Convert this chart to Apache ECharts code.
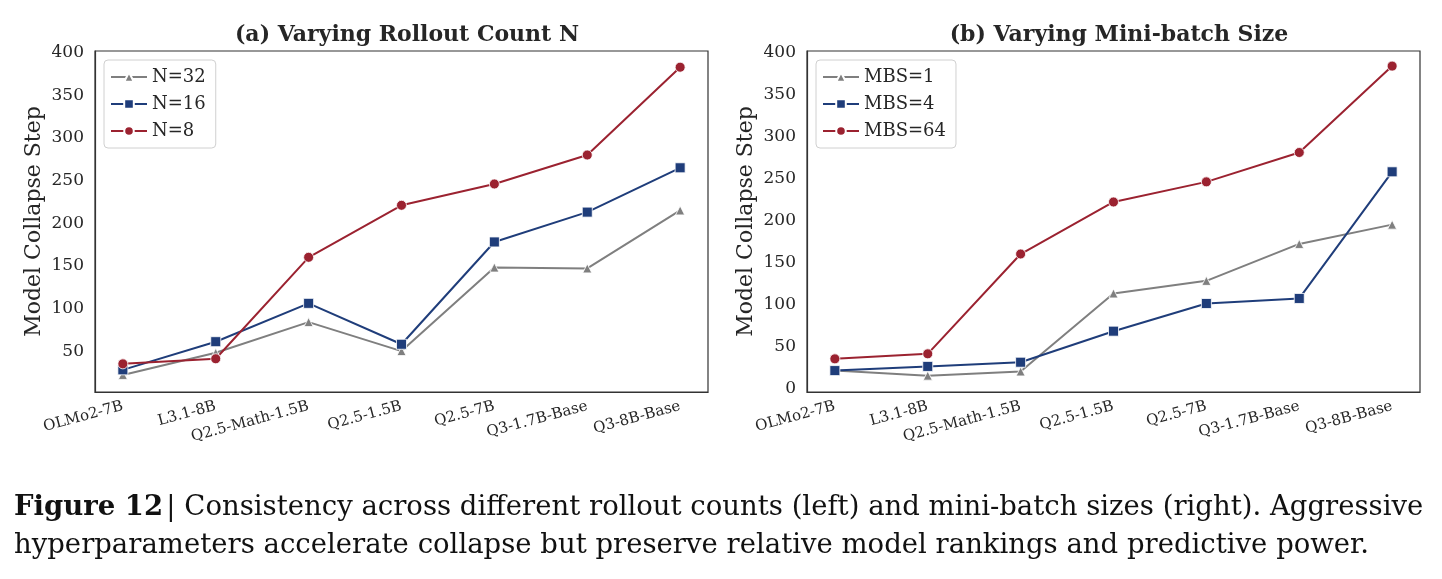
<!DOCTYPE html>
<html>
<head>
<meta charset="utf-8">
<script src="https://cdn.jsdelivr.net/npm/echarts@6/dist/echarts.min.js"></script>
<style>
  html, body { margin: 0; padding: 0; background: #fff; }
  #chart { width: 1442px; height: 579px; }
</style>
</head>
<body>
<div id="chart"></div>
<script>
const models = ["OLMo2-7B", "L3.1-8B", "Q2.5-Math-1.5B", "Q2.5-1.5B", "Q2.5-7B", "Q3-1.7B-Base", "Q3-8B-Base"];
const n32 = [22, 48, 84, 50, 148, 147, 215];
const n16 = [28, 61, 106, 58, 178, 213, 265];
const n8 = [35, 41, 160, 221, 246, 280, 383];
const mbs1 = [21, 15, 20, 113, 128, 172, 195];
const mbs4 = [21, 26, 31, 68, 101, 107, 258];
const mbs64 = [35, 41, 160, 222, 246, 281, 384];
const leftTicks = [50, 100, 150, 200, 250, 300, 350, 400];
const rightTicks = [0, 50, 100, 150, 200, 250, 300, 350, 400];

const GRAY = "#7f7f7f", BLUE = "#1f3d7a", RED = "#9b2230";
const FONT = "DejaVu Serif";
const TXT = "#262626";

const pts = arr => arr.map((v, i) => [i, v]);

function xAxis(idx) {
  return {
    type: "value", gridIndex: idx, min: -0.3, max: 6.3,
    axisLine: { show: true, onZero: false, lineStyle: { color: "#333", width: 1.2 } },
    axisTick: { show: false },
    splitLine: { show: false },
    axisLabel: {
      customValues: models.map((m, i) => i),
      formatter: v => models[Math.round(v)],
      rotate: 15, fontFamily: FONT, fontSize: 15, color: TXT, margin: 14
    }
  };
}
function yAxis(idx, min, max, ticks) {
  return {
    type: "value", gridIndex: idx, min: min, max: max,
    name: "Model Collapse Step", nameLocation: "middle", nameGap: 50,
    nameTextStyle: { fontFamily: FONT, fontSize: 22, color: TXT },
    axisLine: { show: true, onZero: false, lineStyle: { color: "#333", width: 1.2 } },
    axisTick: { show: false },
    splitLine: { show: false },
    axisLabel: { customValues: ticks, fontFamily: FONT, fontSize: 17, color: TXT, margin: 11 }
  };
}
function line(name, data, color, symbol, idx) {
  return {
    type: "line", name: name, data: pts(data), xAxisIndex: idx, yAxisIndex: idx,
    symbol: symbol, symbolSize: symbol === "triangle" ? 9 : 10,
    lineStyle: { color: color, width: 2 },
    itemStyle: { color: color, borderColor: "#fff", borderWidth: 0.8 },
    emphasis: { disabled: true }, animation: false
  };
}
function legend(left, names) {
  return {
    data: names, orient: "vertical", left: left, top: 60,
    backgroundColor: "#fff", borderColor: "#d0d0d0", borderWidth: 1, borderRadius: 4,
    padding: [8, 10, 8, 6], itemGap: 9, itemWidth: 36, itemHeight: 12,
    textStyle: { fontFamily: FONT, fontSize: 18, color: TXT }
  };
}

const chart = echarts.init(document.getElementById("chart"));
chart.setOption({
  backgroundColor: "#fff",
  animation: false,
  title: [
    { text: "(a) Varying Rollout Count N", left: 402, top: 19, textAlign: "center",
      textStyle: { fontFamily: FONT, fontWeight: "bold", fontSize: 22, color: TXT } },
    { text: "(b) Varying Mini-batch Size", left: 1114, top: 19, textAlign: "center",
      textStyle: { fontFamily: FONT, fontWeight: "bold", fontSize: 22, color: TXT } }
  ],
  grid: [
    { left: 95, right: 734, top: 51, bottom: 187, show: true, borderColor: "#333", borderWidth: 1.2 },
    { left: 807, right: 22, top: 51, bottom: 187, show: true, borderColor: "#333", borderWidth: 1.2 }
  ],
  legend: [legend(104, ["N=32", "N=16", "N=8"]), legend(816, ["MBS=1", "MBS=4", "MBS=64"])],
  xAxis: [xAxis(0), xAxis(1)],
  yAxis: [yAxis(0, 2, 402, leftTicks), yAxis(1, -4.5, 402, rightTicks)],
  series: [
    line("N=32", n32, GRAY, "triangle", 0),
    line("N=16", n16, BLUE, "rect", 0),
    line("N=8", n8, RED, "circle", 0),
    line("MBS=1", mbs1, GRAY, "triangle", 1),
    line("MBS=4", mbs4, BLUE, "rect", 1),
    line("MBS=64", mbs64, RED, "circle", 1)
  ],
  graphic: [
    { type: "text", left: 14, top: 494, style: {
        rich: { b: { fontFamily: FONT, fontWeight: "bold", fontSize: 27.5, fill: "#111" },
                n: { fontFamily: FONT, fontSize: 27.5, fill: "#111" } },
        text: "{b|Figure 12} {n|| Consistency across different rollout counts (left) and mini-batch sizes (right). Aggressive}" } },
    { type: "text", left: 14, top: 532, style: {
        text: "hyperparameters accelerate collapse but preserve relative model rankings and predictive power.",
        fontFamily: FONT, fontSize: 27.5, fill: "#111" } }
  ]
});
</script>
</body>
</html>
